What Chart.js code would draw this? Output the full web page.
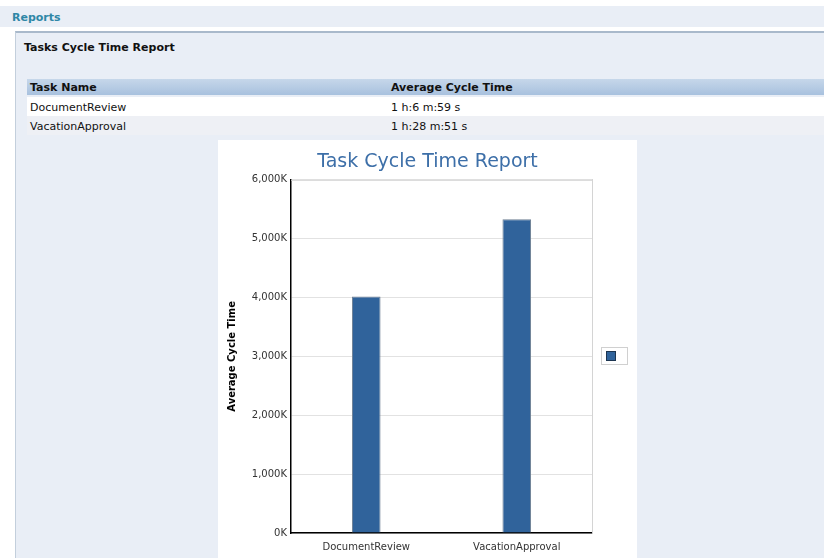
<!DOCTYPE html>
<html>
<head>
<meta charset="utf-8">
<script src="https://cdn.jsdelivr.net/npm/chart.js@4/dist/chart.umd.min.js"></script>
<style>
  body { margin: 0; width: 824px; height: 558px; background: #fff; font-family: "DejaVu Sans", sans-serif; font-size: 11px; color: #111; overflow: hidden; position: relative; }
  .band { position: absolute; left: 0; top: 6px; width: 824px; height: 21px; background: #e9eef6; }
  .band span { position: absolute; left: 12px; top: 5px; font-weight: bold; color: #2f87a6; }
  .panel { position: absolute; left: 15px; top: 31px; width: 809px; height: 527px; background: #e9eef6; border-top: 2px solid #a9b9cb; border-left: 1px solid #c3cfdc; }
  .panel h3 { position: absolute; left: 8px; top: 8px; margin: 0; font-size: 11px; font-weight: bold; }
  table { position: absolute; left: 11px; top: 46px; width: 798px; border-collapse: collapse; }
  th { text-align: left; height: 16px; padding: 0 3px; font-weight: bold; background: linear-gradient(#c6d7ea, #a8c1de); }
  td { height: 18px; padding: 1px 3px 0 3px; }
  tr.r1 td { background: #fff; border-top: 2px solid #e9eef6; }
  tr.r2 td { background: #eef0f5; }
  .col2 { width: 431px; }
  #box { position: absolute; left: 218px; top: 140px; width: 419px; height: 418px; background: #fff; }
</style>
</head>
<body>
<div class="band"><span>Reports</span></div>
<div class="panel">
  <h3>Tasks Cycle Time Report</h3>
  <table>
    <thead><tr><th>Task Name</th><th class="col2">Average Cycle Time</th></tr></thead>
    <tbody id="rows"></tbody>
  </table>
</div>
<div id="box"><canvas id="chart" width="419" height="418"></canvas></div>
<script>
// Données
const taskNames = ['DocumentReview', 'VacationApproval'];
const cycleText = ['1 h:6 m:59 s', '1 h:28 m:51 s'];
const cycleMs = [4019000, 5331000];
const yTicks = [0, 1000000, 2000000, 3000000, 4000000, 5000000, 6000000];

const barColor = '#30639b';

// Tableau
const tbody = document.getElementById('rows');
taskNames.forEach((name, i) => {
  const tr = document.createElement('tr');
  tr.className = i % 2 ? 'r2' : 'r1';
  tr.innerHTML = '<td>' + name + '</td><td>' + cycleText[i] + '</td>';
  tbody.appendChild(tr);
});

// Bord haut + légende encadrée (sans texte)
const framePlugin = {
  id: 'frame',
  beforeDatasetsDraw(chart) {
    const { ctx, chartArea: a } = chart;
    ctx.save();
    ctx.strokeStyle = '#d4d4d4';
    ctx.lineWidth = 1;
    ctx.beginPath();
    ctx.moveTo(a.left, a.top + 0.5);
    ctx.lineTo(a.right, a.top + 0.5);
    ctx.stroke();
    ctx.restore();
  },
  afterDraw(chart) {
    const { ctx, chartArea: a } = chart;
    const x = a.right + 9, y = Math.round((a.top + a.bottom) / 2) - 9;
    ctx.save();
    ctx.fillStyle = '#fff';
    ctx.strokeStyle = '#d0d0d0';
    ctx.lineWidth = 1;
    ctx.fillRect(x, y, 27, 18);
    ctx.strokeRect(x + 0.5, y + 0.5, 26, 17);
    ctx.fillStyle = chart.data.datasets[0].backgroundColor;
    ctx.fillRect(x + 5, y + 4, 10, 10);
    ctx.strokeStyle = '#1d3550';
    ctx.strokeRect(x + 5.5, y + 4.5, 9, 9);
    ctx.restore();
  }
};

const tickFont = { family: 'DejaVu Sans', size: 10 };

new Chart(document.getElementById('chart'), {
  type: 'bar',
  data: {
    labels: taskNames,
    datasets: [{
      label: '',
      data: cycleMs,
      backgroundColor: barColor,
      borderColor: '#6f8094',
      borderWidth: 1,
      barPercentage: 0.19,
      categoryPercentage: 1
    }]
  },
  options: {
    responsive: false,
    animation: false,
    layout: { padding: 0 },
    plugins: {
      legend: { display: false },
      tooltip: { enabled: false },
      title: {
        display: true,
        text: 'Task Cycle Time Report',
        color: '#3d6fa8',
        font: { family: 'DejaVu Sans', size: 19, weight: 'normal' },
        padding: { top: 11, bottom: 6 }
      }
    },
    scales: {
      x: {
        grid: { display: false },
        border: { color: '#000', width: 1.5 },
        ticks: { color: '#333', font: tickFont, padding: 0, maxRotation: 0 },
        afterFit(scale) { scale.height = 25; }
      },
      y: {
        min: 0,
        max: 6000000,
        afterBuildTicks(scale) { scale.ticks = yTicks.map(v => ({ value: v })); },
        grid: { color: '#e2e2e2', drawTicks: false },
        border: { color: '#000', width: 1.5 },
        ticks: {
          color: '#333',
          font: tickFont,
          padding: 4,
          callback: v => (v / 1000).toLocaleString('en-US') + 'K'
        },
        title: {
          display: true,
          text: 'Average Cycle Time',
          color: '#000',
          font: { family: 'DejaVu Sans', size: 10, weight: 'bold' },
          padding: { top: 8, bottom: 0 }
        },
        afterFit(scale) { scale.width = 73; }
      },
      // axe vide à droite : réserve la place de la légende et trace le bord droit
      yRight: {
        position: 'right',
        min: 0,
        max: 6000000,
        grid: { display: false, drawTicks: false },
        border: { color: '#d4d4d4', width: 1 },
        ticks: { display: false },
        afterFit(scale) { scale.width = 45; }
      }
    }
  },
  plugins: [framePlugin]
});
</script>
</body>
</html>
